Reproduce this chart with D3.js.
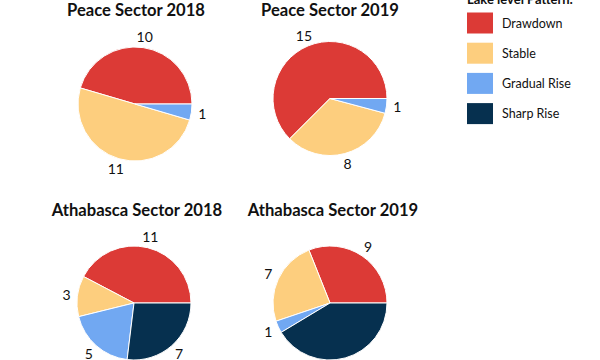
<!DOCTYPE html>
<html><head><meta charset="utf-8">
<script src="https://cdn.jsdelivr.net/npm/d3@7"></script>
<style>body{margin:0;background:#fff}svg{display:block}text{font-family:Lato,"Open Sans",sans-serif}</style>
</head><body><svg id="c" width="600" height="360"></svg>
<script>
const categories = ["Drawdown", "Stable", "Gradual Rise", "Sharp Rise"];
const colors = ["#DC3A36", "#FDCE7E", "#71A8F2", "#06304F"];
const titles = ["Peace Sector 2018", "Peace Sector 2019", "Athabasca Sector 2018", "Athabasca Sector 2019"];
const peace2018 = [10, 11, 1, 0];
const peace2019 = [15, 8, 1, 0];
const athabasca2018 = [11, 3, 5, 7];
const athabasca2019 = [9, 7, 1, 12];
const labelShown = [[true,true,true,false],[true,true,true,false],[true,true,true,true],[true,true,true,false]];
const legendTitle = "Lake level Pattern:";

const svg = d3.select("#c");
const color = d3.scaleOrdinal().domain(categories).range(colors);
const panels = [
  {title: titles[0], values: peace2018, cx: 135, cy: 104, ty: 16, tx: 136},
  {title: titles[1], values: peace2019, cx: 330, cy: 98.5, ty: 16, tx: 330},
  {title: titles[2], values: athabasca2018, cx: 134, cy: 303, ty: 216, tx: 137},
  {title: titles[3], values: athabasca2019, cx: 330, cy: 303, ty: 216, tx: 333}
];
const R = 57, LR = 68;
// start at 3 o'clock, counterclockwise
const pie = d3.pie().sort(null).value(d => d.v)
  .startAngle(Math.PI/2).endAngle(Math.PI/2 - 2*Math.PI);
const arc = d3.arc().innerRadius(0).outerRadius(R);
const labelArc = d3.arc().innerRadius(LR).outerRadius(LR);

panels.forEach((p, i) => {
  const g = svg.append("g");
  g.append("text").attr("x", p.tx).attr("y", p.ty)
    .attr("text-anchor", "middle").attr("font-weight", "bold").attr("font-size", 16.6)
    .attr("fill", "#111").text(p.title);
  const data = pie(categories.map((c, k) => ({c, v: p.values[k], k})));
  const pg = g.append("g").attr("transform", `translate(${p.cx},${p.cy})`);
  pg.selectAll("path").data(data.filter(d => d.data.v > 0)).join("path")
    .attr("d", arc).attr("fill", d => color(d.data.c))
    .attr("stroke", "#fff").attr("stroke-width", 1);
  pg.selectAll("text").data(data.filter(d => d.data.v > 0 && labelShown[i][d.data.k])).join("text")
    .attr("transform", d => `translate(${labelArc.centroid(d)})`)
    .attr("text-anchor", "middle").attr("dy", "0.36em")
    .attr("font-size", 14).attr("fill", "#111").text(d => d.data.v);
});

const lg = svg.append("g").attr("transform", "translate(467,0)");
lg.append("text").attr("x", 0).attr("y", 4).attr("font-weight", "bold").attr("font-size", 13)
  .attr("fill", "#111").text(legendTitle);
categories.forEach((c, k) => {
  lg.append("rect").attr("x", 0).attr("y", 12.5 + k*30.2).attr("width", 26).attr("height", 21)
    .attr("fill", color(c));
  lg.append("text").attr("x", 35).attr("y", 23 + k*30.2).attr("dy", "0.36em")
    .attr("font-size", 12.5).attr("fill", "#111").text(c);
});
</script></body></html>
